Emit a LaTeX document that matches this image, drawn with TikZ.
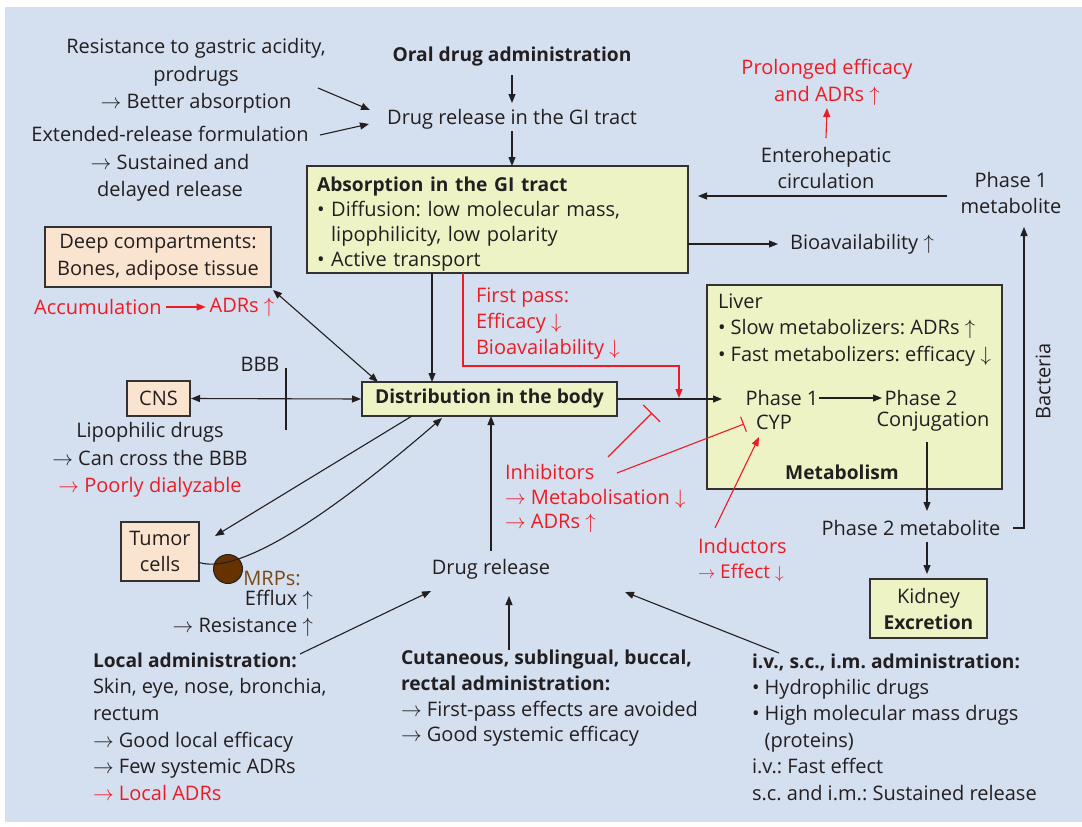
\documentclass[tikz,border=0pt]{standalone}
\usepackage{fontspec}
\setmainfont{Open Sans}
\usetikzlibrary{arrows.meta,calc}
\definecolor{bg}{RGB}{212,223,240}
\definecolor{ink}{RGB}{35,31,32}
\definecolor{myred}{RGB}{237,28,36}
\definecolor{ybox}{RGB}{238,243,197}
\definecolor{peach}{RGB}{250,228,208}
\definecolor{edge}{RGB}{50,50,50}
\definecolor{mrpfill}{RGB}{102,51,0}
\definecolor{mrptext}{RGB}{122,72,20}
\newcommand\myfs[1]{\fontsize{20}{#1}\selectfont}
\newcommand\myfsb[1]{\fontsize{19.2}{#1}\selectfont\bfseries}
\newcommand\bt[1]{{\fontsize{19.2}{24}\selectfont\bfseries #1}}
\frenchspacing
\begin{document}
\begin{tikzpicture}[x=1pt,y=-1pt,
  every node/.style={inner sep=0pt, outer sep=0pt, text=ink, font=\myfs{26}},
  rt/.style={text=myred},
  box/.style={draw=edge, line width=1.3pt, fill=ybox},
  pbox/.style={box, fill=peach},
  arr/.style={draw=ink, line width=1.1pt, -{Triangle[length=9pt,width=7pt]}},
  darr/.style={draw=ink, line width=1.1pt, {Triangle[length=9pt,width=7pt]}-{Triangle[length=9pt,width=7pt]}},
  rarr/.style={draw=myred, line width=1.1pt, -{Triangle[length=9pt,width=7pt]}},
  rbar/.style={draw=myred, line width=1.1pt},
  ]
\useasboundingbox (0,0) rectangle (1082,827);
\fill[bg] (5,7) rectangle (1082,822);

% top left texts
\node[align=center, font=\myfs{27.5}] (resist) at (196,76) {Resistance to gastric acidity,\\prodrugs\\$\rightarrow$ Better absorption};
\node[align=center, font=\myfs{27.5}] (extend) at (170,164) {Extended-release formulation\\$\rightarrow$ Sustained and\\delayed release};

% oral route
\node[font=\myfsb{26}] (oral) at (512,57) {Oral drug administration};
\node (grel) at (512,119) {Drug release in the GI tract};
\node[box, minimum width=381pt, minimum height=107pt, text width=361pt, inner xsep=10pt, align=left, font=\myfs{25}] (absorb) at (497.5,219.5)
  {\rule{0pt}{23pt}\bt{Absorption in the GI tract}\\\textbullet\ Diffusion: low molecular mass,\\\phantom{\textbullet\ }lipophilicity, low polarity\\\textbullet\ Active transport};

% enterohepatic
\node[rt, align=center, font=\myfs{27}] (prolonged) at (827,82) {Prolonged efficacy\\and ADRs $\uparrow$};
\node[align=center] (entero) at (826,168) {Enterohepatic\\circulation};
\node[align=center] (ph1met) at (1011,193) {Phase 1\\metabolite};
\node (bioavail) at (862,244) {Bioavailability $\uparrow$};

% deep compartments
\node[pbox, minimum width=226pt, minimum height=60pt, align=center, font=\myfs{27}] (deep) at (158,257) {Deep compartments:\\Bones, adipose tissue};
\node[rt] (accum) at (98,307) {Accumulation};
\node[rt] (adrs) at (242,307) {ADRs $\uparrow$};

% first pass
\node[rt, anchor=west, align=left, font=\myfs{26}] (firstpass) at (476,324) {First pass:\\Efficacy $\downarrow$\\Bioavailability $\downarrow$};

% distribution
\node[box, minimum width=255pt, minimum height=34pt, font=\myfsb{26}] (dist) at (489.5,399) {Distribution in the body};

% BBB and CNS
\node (bbb) at (260,364) {BBB};
\node[pbox, minimum width=63pt, minimum height=35pt] (cns) at (158.5,398.5) {CNS};
\node[align=center, font=\myfs{27.5}] (lipo) at (150,460) {Lipophilic drugs\\$\rightarrow$ Can cross the BBB\\{\color{myred}$\rightarrow$ Poorly dialyzable}};

% tumor
\node[pbox, minimum width=78pt, minimum height=59pt, align=center] (tumor) at (160,551.5) {Tumor\\cells};
\node[circle, draw=ink, fill=mrpfill, line width=1pt, minimum size=29pt] (mrp) at (228,569) {};
\node[text=mrptext] (mrps) at (272,578) {MRPs:};
\node[anchor=east, align=right, font=\myfs{27}] (efflux) at (313,613.5) {Efflux $\uparrow$\\$\rightarrow$ Resistance $\uparrow$};

% inhibitors / inductors
\node[rt, anchor=west, align=left, font=\myfs{24.5}] (inhib) at (505,498.5) {Inhibitors\\$\rightarrow$ Metabolisation $\downarrow$\\$\rightarrow$ ADRs $\uparrow$};
\node[rt, anchor=west] (induct) at (698,546) {Inductors};
\node[rt, anchor=west, font=\fontsize{19}{22}\selectfont] (effect) at (698,573) {$\rightarrow$ Effect $\downarrow$};

% liver
\node[box, minimum width=295pt, minimum height=204pt] (liver) at (854.5,387) {};
\node[anchor=west, align=left, font=\myfs{26.5}] (livertxt) at (718,330) {Liver\\\textbullet\ Slow metabolizers: ADRs $\uparrow$\\\textbullet\ Fast metabolizers: efficacy $\downarrow$};
\node (ph1) at (782,398) {Phase 1};
\node (cyp) at (774,422) {CYP};
\node (ph2) at (921,398) {Phase 2};
\node (conj) at (933,422) {Conjugation};
\node[font=\myfsb{26}] (metab) at (842,472) {Metabolism};

\node (ph2met) at (911,528) {Phase 2 metabolite};
\node[rotate=90] (bact) at (1043,381) {Bacteria};
\node[box, minimum width=117pt, minimum height=59pt, align=center] (kidney) at (928.5,608.5) {Kidney\\\bt{Excretion}};

% bottom
\node (drugrel) at (491,569) {Drug release};
\node[anchor=west, align=left, font=\myfs{26.6}] (local) at (93,726.5) {\bt{Local administration:}\\Skin, eye, nose, bronchia,\\rectum\\$\rightarrow$ Good local efficacy\\$\rightarrow$ Few systemic ADRs\\{\color{myred}$\rightarrow$ Local ADRs}};
\node[anchor=west, align=left, font=\myfs{25.7}] (cutan) at (401,698.5) {\bt{Cutaneous, sublingual, buccal,}\\\bt{rectal administration:}\\$\rightarrow$ First-pass effects are avoided\\$\rightarrow$ Good systemic efficacy};
\node[anchor=west, align=left, font=\myfs{26.4}] (iv) at (752,727) {\bt{i.v., s.c., i.m. administration:}\\\textbullet\ Hydrophilic drugs\\\textbullet\ High molecular mass drugs\\\phantom{\textbullet\ }(proteins)\\i.v.: Fast effect\\s.c. and i.m.: Sustained release};

% connectors
\draw[arr] ($(resist)+(122,12)$) -- ($(grel)+(-142,-9)$);
\draw[arr] ($(extend)+(150,-29)$) -- ($(grel)+(-143,5)$);
\draw[arr] ($(oral)+(0,18)$) -- ($(grel)+(0,-16)$);
\draw[arr] ($(grel)+(0,12)$) -- (grel |- absorb.north);
\draw[arr] ($(ph1met.west)+(-14,3)$) -- ($(absorb.east |- ph1met.west)+(10,3)$);
\draw[rarr] ($(entero)+(0,-30)$) -- ($(prolonged)+(0,26)$);
\draw[arr] (absorb.east |- bioavail) -- ($(bioavail)+(-84,0)$);
\draw[darr] ($(deep.south east)+(2,3)$) -- ($(dist.north west)+(16,0)$);
\draw[rarr] ($(accum.east)+(4,0)$) -- ($(adrs.west)+(-4,0)$);
\draw[arr] ($(absorb.south west)+(125,0)$) coordinate (a1) -- (a1 |- dist.north);
\draw[rarr] ($(absorb.south west)+(156,0)$) |- ($(dist.east)+(62,-33)$) -- ($(dist.east)+(62,-1)$);
\draw[arr] (dist.east) -- ($(ph1)+(-60,1)$);
\draw[darr] ($(cns.east)+(1,0)$) -- ($(dist.west)+(-1,0)$);
\draw[ink, line width=2.6pt] ($(bbb)+(26,4)$) -- ++(0,62);
\draw[arr] ($(dist.south west)+(50,0)$) -- ($(tumor.north east)+(16,14)$);
\draw[arr] ($(tumor.east)+(0,11)$) .. controls (250,578) and (370,480) .. ($(dist.south west)+(80,2)$);
\draw[arr] ($(drugrel)+(0,-18)$) -- (drugrel |- dist.south);
\draw[arr] ($(local.west)+(207,-72.5)$) -- ($(drugrel)+(-60,22)$);
\draw[arr] ($(cutan.west)+(108,-48.5)$) -- ($(drugrel)+(18,27)$);
\draw[arr] ($(iv.west)+(27,-74)$) -- ($(drugrel)+(134,23)$);
\draw[rbar, -{Bar[width=24pt]}] ($(inhib.west)+(103,-41.5)$) -- ($(dist.east)+(35,14)$);
\draw[rbar, -{Bar[width=16pt]}] ($(inhib.west)+(112,-25.5)$) -- ($(cyp)+(-30,2)$);
\draw[rarr] ($(induct.west)+(17,-18)$) -- ($(cyp)+(-15,15)$);
\draw[arr] ($(ph1)+(37,0)$) -- ($(ph2)+(-39,0)$);
\draw[arr] ($(conj)+(-6,20)$) -- ($(ph2met)+(16,-17)$);
\draw[arr, shorten >=5pt] ($(ph2met)+(16,14)$) coordinate (k1) -- (k1 |- kidney.north);
\draw[arr] ($(ph2met)+(102,0)$) -| ($(ph1met)+(13,34)$);
\end{tikzpicture}
\end{document}
